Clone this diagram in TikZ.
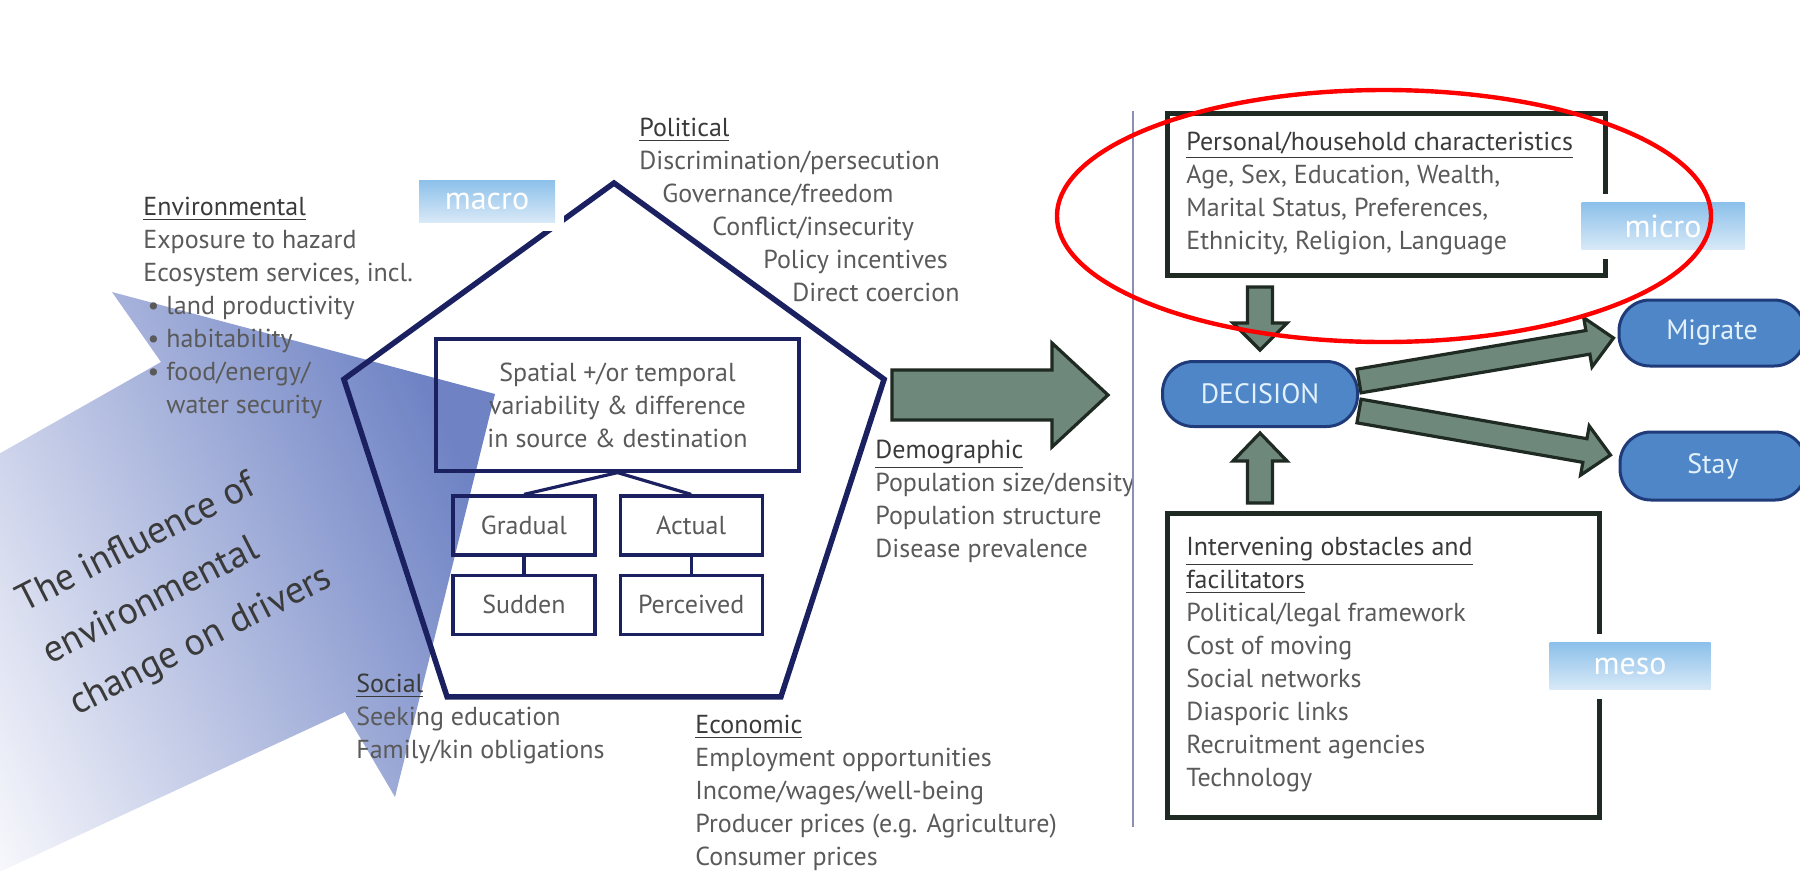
\documentclass[tikz,border=0pt]{standalone}
\usepackage{fontspec}
\setmainfont{PT Sans}
\usetikzlibrary{calc,positioning}

\definecolor{navy}{HTML}{1B2160}
\definecolor{txtgrey}{HTML}{5A5A5A}
\definecolor{hdrgrey}{HTML}{3A3A3A}
\definecolor{arrowfill}{HTML}{6F887C}
\definecolor{arrowline}{HTML}{1E2A22}
\definecolor{decfill}{HTML}{4E86C7}
\definecolor{decline}{HTML}{1F3B7A}
\definecolor{pilltext}{HTML}{E2F1FB}
\definecolor{lbltop}{HTML}{8CC0EA}
\definecolor{lblbot}{HTML}{D8E9F7}
\definecolor{envlight}{HTML}{FAFAFD}
\definecolor{envdark}{HTML}{6E82C4}
\definecolor{sepline}{HTML}{8B8FB5}

\newcommand\hdr[1]{\textcolor{hdrgrey}{\underline{#1}}}
\newcommand\fatarrow[5]{%
  \coordinate (fah) at ($(#2)!#5!(#1)$);
  \draw[fat] ($(#1)!#3!90:(#2)$) -- ($(fah)!#3!90:(#2)$) -- ($(fah)!#4!90:(#2)$) -- (#2)
    -- ($(fah)!#4!-90:(#2)$) -- ($(fah)!#3!-90:(#2)$) -- ($(#1)!#3!-90:(#2)$) -- cycle;}

\begin{document}
\begin{tikzpicture}[x=0.5pt,y=-0.5pt,
  txt/.style={text=txtgrey, font=\fontsize{13}{16.5}\selectfont},
  body/.style={txt, align=left, inner sep=0pt, anchor=north west},
  frame/.style={txt, draw=navy, line width=1.6pt, inner sep=0pt, align=center},
  smallbox/.style={frame, minimum width=71pt, minimum height=29.5pt},
  levelbox/.style={top color=lbltop, bottom color=lblbot, text=white, font=\fontsize{16}{16}\selectfont,
    inner sep=0pt, preaction={draw=white, line width=9pt}},
  charbox/.style={draw=arrowline, line width=2.5pt, inner sep=0pt, anchor=north west},
  pill/.style={fill=decfill, draw=decline, line width=1.5pt, rounded corners=15.5pt, text=pilltext,
    inner sep=0pt, font=\fontsize{14}{14}\selectfont},
  fat/.style={fill=arrowfill, draw=arrowline, line width=1.6pt, line join=miter}]
  \useasboundingbox (0,0) rectangle (1800,874);
  \clip (0,0) rectangle (1800,874);

  \shade[left color=envlight, right color=envdark, shading angle=115]
    (-100,510) -- (161,362) -- (112,292) -- (495,394) -- (395,797) -- (345,712) -- (-100,918) -- cycle;
  \node[rotate=27, align=left, anchor=west, inner sep=0pt, text=hdrgrey, font=\fontsize{19}{29}\selectfont]
    (influence) at (46,656) {The influence of\\environmental\\change on drivers};

  \foreach \a/\n in {-90/p1,-18/p2,54/p3,126/p4,198/p5}
    \coordinate (\n) at ($(614,467)+(\a:284)$);
  \draw[navy, line width=2.75pt, line join=miter] (p1) -- (p2) -- (p3) -- (p4) -- (p5) -- cycle;

  \node[frame, minimum width=181.5pt, minimum height=66pt] (spatial) at (617.5,405)
    {Spatial +/or temporal\\variability \& difference\\in source \& destination};
  \node[smallbox] (gradual) at (524,525.5) {Gradual};
  \node[smallbox, right=11pt of gradual] (actual) {Actual};
  \node[smallbox, below=8.5pt of gradual] (sudden) {Sudden};
  \node[smallbox, below=8.5pt of actual] (perceived) {Perceived};
  \path[draw=navy, line width=1.6pt] (spatial.south) edge (gradual.north)
                                                   edge (actual.north)
        (gradual) edge (sudden)
        (actual) edge (perceived);

  \node[levelbox, minimum width=68pt, minimum height=21pt] (macro) at (487,201) {macro};

  \node[body] (env) at (143,197) {\hdr{Environmental}\\Exposure to hazard\\Ecosystem services, incl.\\
    \makebox[11.5pt][l]{\,•}land productivity\\\makebox[11.5pt][l]{\,•}habitability\\
    \makebox[11.5pt][l]{\,•}food/energy/\\\hspace*{11.5pt}water security};
  \node[body] (pol) at (639,118) {\hdr{Political}\\Discrimination/persecution\\
    \hspace*{11.5pt}Governance/freedom\\\hspace*{36.5pt}Conflict/insecurity\\
    \hspace*{62pt}Policy incentives\\\hspace*{76.5pt}Direct coercion};
  \node[body] (demo) at (875,440) {\hdr{Demographic}\\Population size/density\\Population structure\\Disease prevalence};
  \node[body] (social) at (356,674) {\hdr{Social}\\Seeking education\\Family/kin obligations};
  \node[body] (econ) at (695,715) {\hdr{Economic}\\Employment opportunities\\Income/wages/well-being\\
    Producer prices (e.g. Agriculture)\\Consumer prices};

  \draw[sepline, line width=0.8pt] (1133,111) -- (1133,827);

  \node[charbox, minimum width=219pt, minimum height=81pt] (personal) at (1165,111) {};
  \node[body] (perstxt) at ($(personal.north west)+(21,21)$) {\hdr{Personal/household characteristics}\\
    Age, Sex, Education, Wealth,\\Marital Status, Preferences,\\Ethnicity, Religion, Language};
  \node[charbox, minimum width=216pt, minimum height=152pt] (intervening) at (1165,511) {};
  \node[body] (inttxt) at ($(intervening.north west)+(21,26)$) {\hdr{Intervening obstacles and}\\\hdr{facilitators}\\
    Political/legal framework\\Cost of moving\\Social networks\\Diasporic links\\Recruitment agencies\\Technology};

  \node[pill, minimum width=97.5pt, minimum height=32.5pt] (decision) at (1260,394) {DECISION};
  \node[pill, minimum width=93pt, minimum height=33pt] (migrate) at (1712,333) {Migrate};
  \node[pill, minimum width=93pt, minimum height=34pt] (stay) at (1713,466) {Stay};

  \coordinate (pentout) at (892,395);
  \coordinate (decin) at (1108,395);
  \coordinate (persout) at ($(personal.south -| decision.north)+(0,9)$);
  \coordinate (decup) at ($(decision.north)+(0,-10)$);
  \coordinate (intout) at ($(intervening.north -| decision.south)+(0,-8)$);
  \coordinate (decdown) at ($(decision.south)+(0,5)$);
  \coordinate (decmig) at ($(decision.east)+(0,-13)$);
  \coordinate (migin) at ($(migrate.west)+(-4,5)$);
  \coordinate (decstay) at ($(decision.east)+(0,17)$);
  \coordinate (stayin) at ($(stay.west)+(-8,-11)$);
  \fatarrow{pentout}{decin}{12.5pt}{26pt}{28pt}
  \fatarrow{persout}{decup}{6.25pt}{13.5pt}{13.5pt}
  \fatarrow{intout}{decdown}{6.25pt}{13.5pt}{14pt}
  \fatarrow{decmig}{migin}{6pt}{12.5pt}{13pt}
  \fatarrow{decstay}{stayin}{6pt}{12.5pt}{13pt}

  \node[levelbox, minimum width=81.5pt, minimum height=23.5pt] (micro) at (1663,226) {micro};
  \node[levelbox, minimum width=80.5pt, minimum height=23.5pt] (meso) at (1630,666) {meso};

  \draw[red, line width=2.2pt] (1384,216) ellipse [x radius=327, y radius=126];
\end{tikzpicture}
\end{document}
